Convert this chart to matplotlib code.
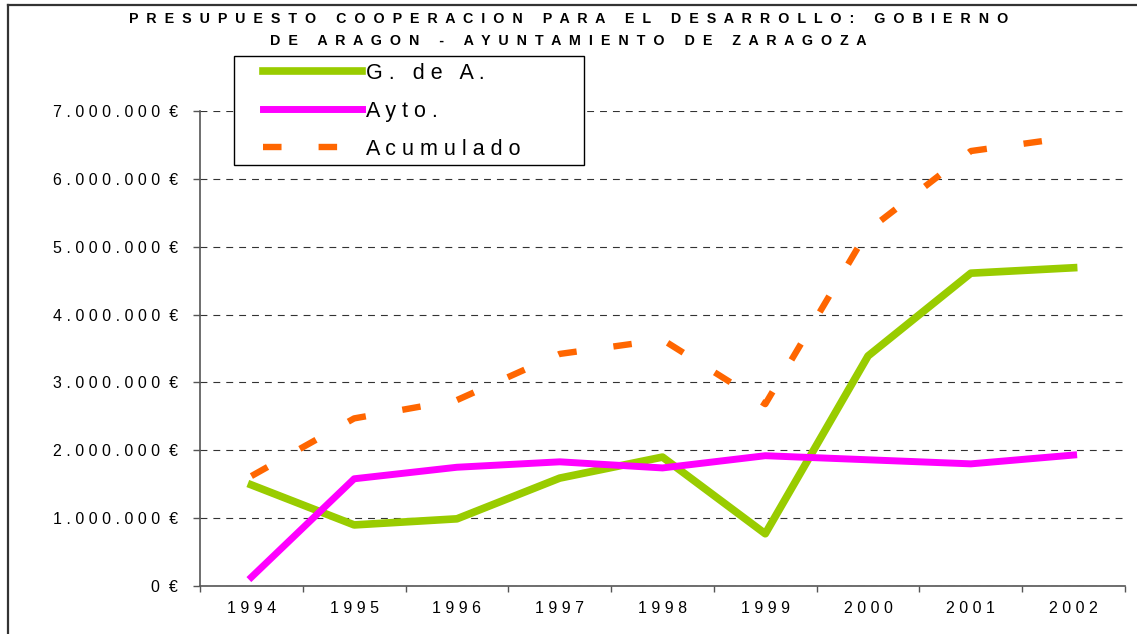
import numpy as np
import matplotlib.pyplot as plt
from matplotlib.lines import Line2D
from matplotlib.patches import Rectangle
from matplotlib.ticker import FuncFormatter, MultipleLocator, FixedLocator

plt.rcParams['font.family'] = ['Liberation Sans', 'DejaVu Sans']

years = ['1994', '1995', '1996', '1997', '1998', '1999', '2000', '2001', '2002']
gob_aragon = [1490000, 900000, 990000, 1590000, 1900000, 770000, 3390000, 4610000, 4690000]
ayto = [130000, 1580000, 1750000, 1830000, 1740000, 1920000, 1860000, 1800000, 1930000]
acumulado = [1620000, 2470000, 2740000, 3420000, 3630000, 2680000, 5240000, 6410000, 6620000]

labels = ['G. de A.', 'Ayto.', 'Acumulado']
title_1 = 'PRESUPUESTO COOPERACION PARA EL DESARROLLO: GOBIERNO'
title_2 = 'DE ARAGON - AYUNTAMIENTO DE ZARAGOZA'


def spaced(s, sep=' '):
    return sep.join(s)


def euro_fmt(v, pos):
    num = f"{int(round(v)):,}".replace(',', '.')
    return spaced(num) + '  €'


W, H = 1137, 634
fig = plt.figure(figsize=(W / 100, H / 100), dpi=100)
ax = fig.add_axes([200 / W, 48 / H, 925 / W, 475 / H])

x = np.arange(len(years))
green, = ax.plot(x, gob_aragon, color='#99CC00', lw=5.5, zorder=3)
mag, = ax.plot(x, ayto, color='#FF00FF', lw=5.0, zorder=3)
orange, = ax.plot(x, acumulado, color='#FF6600', lw=4.6, zorder=3,
                  dashes=(2.9, 5.8))

ax.set_xlim(-0.5, len(years) - 0.5)
ax.set_ylim(0, 7000000)
ax.yaxis.set_major_locator(MultipleLocator(1000000))
ax.yaxis.set_major_formatter(FuncFormatter(euro_fmt))

ax.set_xticks(x)
ax.set_xticklabels([spaced(y) for y in years])
ax.xaxis.set_minor_locator(FixedLocator(np.arange(-0.5, len(years), 1.0)))
ax.tick_params(axis='x', which='major', length=0, pad=11, labelsize=11.5)
ax.tick_params(axis='x', which='minor', length=4, width=1, color='#555555', direction='out')
ax.tick_params(axis='y', length=5, width=1, color='#555555', pad=11, labelsize=11.5)

ax.set_axisbelow(True)
ax.yaxis.grid(True, color='#333333', lw=0.8, dashes=(6.2, 5.4))
gl = ax.get_ygridlines()
gl[-1].set_color('#dddddd')

for s in ['top', 'right']:
    ax.spines[s].set_visible(False)
for s in ['left', 'bottom']:
    ax.spines[s].set_color('#555555')
    ax.spines[s].set_linewidth(1.2)

# legend box
fig.patches.append(Rectangle((234 / W, 1 - 165 / H), 350 / W, 109 / H,
                             transform=fig.transFigure, facecolor='white',
                             edgecolor='black', lw=1.0, zorder=4))
fig.legend([green, mag, orange], [spaced(l) for l in labels],
           loc='upper left', bbox_to_anchor=(263 / W, 1 - 63 / H),
           frameon=False, fontsize=15.5, handlelength=4.6, handletextpad=0.2,
           labelspacing=0.78, borderpad=0, borderaxespad=0)

fig.text(0.5, 1 - 19 / H, spaced(title_1, '  '), ha='center', va='center',
         fontsize=10.3, fontweight='bold')
fig.text(0.5, 1 - 41 / H, spaced(title_2, '  '), ha='center', va='center',
         fontsize=10.3, fontweight='bold')

# outer border (top and left)
fig.add_artist(Line2D([8 / W, 1], [1 - 5 / H, 1 - 5 / H], transform=fig.transFigure,
                      color='#333333', lw=1.6))
fig.add_artist(Line2D([8 / W, 8 / W], [0, 1 - 5 / H], transform=fig.transFigure,
                      color='#333333', lw=1.6))

fig.savefig('out.png', dpi=100)
